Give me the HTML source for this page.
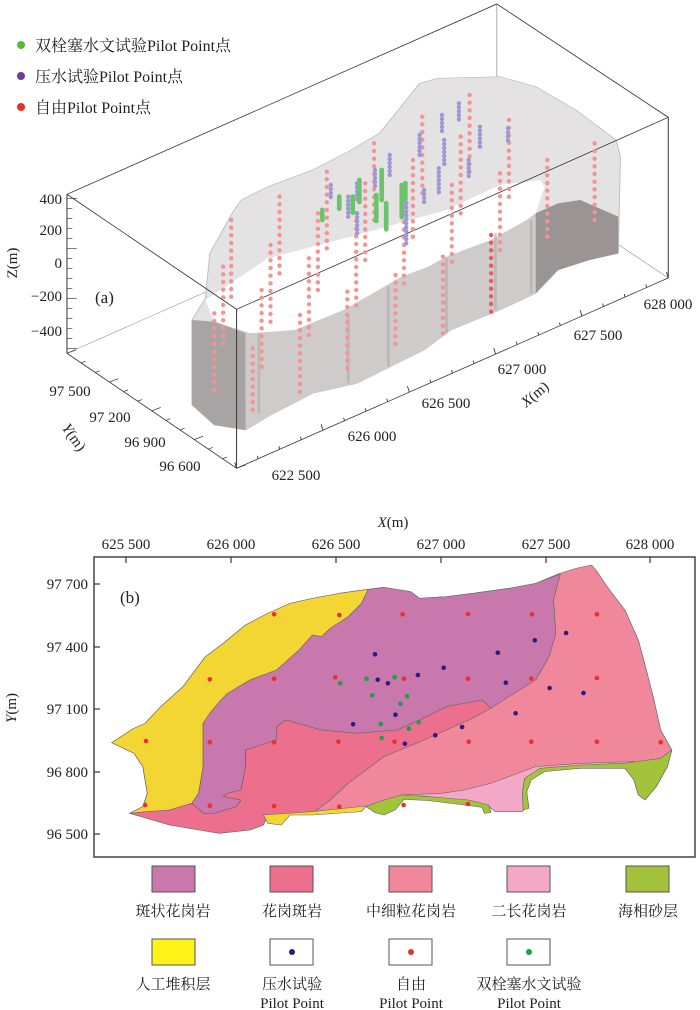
<!DOCTYPE html>
<html><head><meta charset="utf-8"><style>
html,body{margin:0;padding:0;background:#fff}
svg{display:block}
text{font-family:"Liberation Serif","Noto Serif CJK SC","Noto Sans CJK SC",serif;fill:#222}
</style></head><body>
<svg id="s" width="700" height="1010" viewBox="0 0 700 1010" xmlns="http://www.w3.org/2000/svg">
<!-- ===== Panel (a) ===== -->
<g transform="scale(0.4464,0.3333)" stroke-linejoin="round">
  <g stroke="#888" stroke-width="1.5" fill="none">
    <line x1="150" y1="1060" x2="1113" y2="490"/>
    <line x1="1113" y1="490" x2="1497" y2="834"/>
    <line x1="1113" y1="12" x2="1113" y2="490"/>
  </g>
  <polygon fill="#e4e2e2" stroke="#bbb" stroke-width="2" points="430,1215 430,960 460,895 470,760 520,640 540,600 600,560 700,510 780,455 850,400 940,250 980,235 1120,230 1200,260 1290,330 1380,420 1390,470 1385,760 1320,780 1250,810 1200,880 1120,930 1010,990 950,1050 800,1150 700,1180 600,1250 550,1290 480,1275"/>
  <polygon fill="#ffffff" points="460,900 600,775 800,705 1000,630 1120,555 1210,540 1220,560 1200,640 1180,660 1100,720 1000,770 960,800 900,830 770,930 660,990 560,1000 480,965"/>
  <polygon fill="#cfcbcb" points="430,960 480,965 560,1000 660,990 770,930 900,830 960,800 1000,770 1100,720 1180,660 1200,640 1200,880 1120,930 1010,990 950,1050 800,1150 700,1180 600,1250 550,1290 480,1275 430,1215"/>
  <polygon fill="#a9a4a4" points="430,960 480,965 550,1000 550,1290 480,1275 430,1215"/>
  <polygon fill="#9a9494" points="1200,640 1250,610 1300,600 1385,650 1385,760 1320,780 1250,810 1200,880"/>
  <g stroke="#b0aaaa" stroke-width="6" opacity="0.6">
    <line x1="580" y1="1000" x2="580" y2="1240"/><line x1="780" y1="950" x2="780" y2="1150"/>
    <line x1="870" y1="860" x2="870" y2="1100"/><line x1="1000" y1="775" x2="1000" y2="1000"/>
    <line x1="1110" y1="700" x2="1110" y2="930"/><line x1="1190" y1="660" x2="1190" y2="880"/>
  </g>
  <g stroke="#333" stroke-width="2.2" fill="none">
    <polyline points="150,583 1113,12 1497,352 530,928 150,583"/>
    <line x1="150" y1="583" x2="150" y2="1060"/>
    <line x1="530" y1="928" x2="530" y2="1405"/>
    <line x1="1497" y1="352" x2="1497" y2="834"/>
    <line x1="150" y1="1060" x2="530" y2="1405"/>
    <line x1="530" y1="1405" x2="1497" y2="834"/>
  </g>
  <g id="ticksA" stroke="#333" stroke-width="2"></g>
</g>
<g id="dotsA"></g>
<circle cx="21" cy="45" r="4" fill="#5cb83a"/>
<text x="35" y="51" font-size="16">双栓塞水文试验Pilot Point点</text>
<circle cx="21" cy="76" r="4" fill="#6a3d9a"/>
<text x="35" y="82" font-size="16">压水试验Pilot Point点</text>
<circle cx="21" cy="107" r="4" fill="#e8302c"/>
<text x="35" y="113" font-size="16">自由Pilot Point点</text>
<text x="95" y="303" font-size="17">(a)</text>
<g font-size="15" text-anchor="end">
  <text x="62" y="204">400</text><text x="62" y="235">200</text><text x="62" y="268">0</text>
  <text x="62" y="301">−200</text><text x="62" y="336">−400</text>
</g>
<text transform="translate(17,263) rotate(-90)" font-size="15" text-anchor="middle">Z(m)</text>
<g font-size="15" text-anchor="middle">
  <text x="70" y="396">97 500</text><text x="110" y="422">97 200</text>
  <text x="145" y="447">96 900</text><text x="180" y="471">96 600</text>
  <text x="296" y="480">622 500</text><text x="372" y="441">626 000</text>
  <text x="446" y="408">626 500</text><text x="522" y="374">627 000</text>
  <text x="598" y="340">627 500</text><text x="668" y="309">628 000</text>
</g>
<text transform="translate(70,440) rotate(55)" font-size="15" text-anchor="middle"><tspan font-style="italic">Y</tspan>(m)</text>
<text transform="translate(538,398) rotate(-40)" font-size="15" text-anchor="middle"><tspan font-style="italic">X</tspan>(m)</text>

<!-- ===== Panel (b) ===== -->
<g transform="translate(0,500) scale(0.4464,0.3333)" stroke="#666" stroke-width="1.6" stroke-linejoin="round">
  <polygon fill="#f0879b" points="250,728 300,685 325,670 360,620 410,560 460,470 500,430 550,375 600,340 650,310 700,295 760,280 825,268 860,262 920,275 940,295 1000,290 1060,280 1140,265 1200,250 1250,222 1290,205 1325,195 1335,210 1360,260 1400,330 1430,420 1450,520 1465,600 1480,690 1505,750 1495,800 1470,860 1445,900 1430,885 1420,840 1400,800 1300,800 1220,810 1185,835 1175,870 1180,920 1170,935 1110,935 1090,915 1050,905 990,895 950,888 900,888 860,912 840,935 820,920 700,935 600,945 590,975 560,990 490,1000 380,975 290,940 320,920 330,880 320,800 300,760"/>
  <polygon fill="#f3d634" points="250,728 300,685 325,670 360,620 410,560 460,470 500,430 550,375 600,340 650,310 700,295 760,280 825,268 810,310 780,350 740,385 720,410 700,405 670,450 620,510 560,540 510,580 495,600 470,640 455,670 455,800 445,880 430,910 380,930 330,935 290,940 320,920 330,880 320,800 300,760"/>
  <polygon fill="#c878ac" points="825,268 860,262 920,275 940,295 1000,290 1060,280 1140,265 1200,250 1255,222 1240,300 1245,400 1230,470 1200,540 1140,590 1100,625 1080,600 1000,620 940,660 890,690 800,700 720,690 640,660 620,680 620,720 550,750 550,800 540,870 510,880 500,890 540,900 530,920 480,940 455,940 430,910 445,880 455,800 455,670 470,640 495,600 510,580 560,540 620,510 670,450 700,405 720,410 740,385 780,350 810,310"/>
  <polygon fill="#ec6f8d" points="640,660 720,690 800,700 890,690 940,660 1000,620 1080,600 1100,625 1050,660 950,720 860,770 830,800 780,850 740,900 705,935 600,945 590,975 560,990 490,1000 380,975 290,940 330,935 380,930 430,910 455,940 480,940 530,920 540,900 500,890 510,880 540,870 550,800 550,750 620,720 620,680"/>
  <polygon fill="#f3d634" points="590,945 700,935 820,918 810,935 700,945 650,945 630,975 600,970"/>
  <polygon fill="#f4a8c8" points="840,915 900,885 990,880 1040,870 1100,850 1160,820 1200,800 1300,790 1420,785 1380,800 1220,810 1185,835 1175,870 1180,920 1170,935 1110,935 1090,915 1050,905 990,895 950,888 900,888 860,912 845,935"/>
  <polygon fill="#a3c43a" points="1400,790 1480,775 1505,750 1495,800 1470,860 1445,900 1430,885 1420,840 1400,805 1300,805 1220,815 1190,840 1180,875 1185,925 1172,930 1170,880 1175,835 1210,805 1300,795"/>
  <polygon fill="#a3c43a" points="820,920 860,900 900,885 960,890 1050,900 1095,915 1100,938 1085,940 1080,922 1040,915 960,902 905,898 885,930 860,945 840,938"/>
</g>
<g id="dotsB"></g>
<rect x="94" y="557" width="601" height="300" fill="none" stroke="#444" stroke-width="1.5"/>
<g stroke="#444" stroke-width="1.3">
  <line x1="126" y1="557" x2="126" y2="563"/><line x1="231" y1="557" x2="231" y2="563"/>
  <line x1="336" y1="557" x2="336" y2="563"/><line x1="441" y1="557" x2="441" y2="563"/>
  <line x1="546" y1="557" x2="546" y2="563"/><line x1="650" y1="557" x2="650" y2="563"/>
  <line x1="94" y1="584" x2="100" y2="584"/><line x1="94" y1="647" x2="100" y2="647"/>
  <line x1="94" y1="709" x2="100" y2="709"/><line x1="94" y1="772" x2="100" y2="772"/>
  <line x1="94" y1="834" x2="100" y2="834"/>
</g>
<g font-size="15" text-anchor="middle">
  <text x="126" y="549">625 500</text><text x="231" y="549">626 000</text>
  <text x="336" y="549">626 500</text><text x="441" y="549">627 000</text>
  <text x="546" y="549">627 500</text><text x="650" y="549">628 000</text>
  <text x="393" y="527"><tspan font-style="italic">X</tspan>(m)</text>
</g>
<g font-size="15" text-anchor="end">
  <text x="88" y="589">97 700</text><text x="88" y="652">97 400</text>
  <text x="88" y="714">97 100</text><text x="88" y="777">96 800</text>
  <text x="88" y="839">96 500</text>
</g>
<text transform="translate(16,708) rotate(-90)" font-size="15" text-anchor="middle"><tspan font-style="italic">Y</tspan>(m)</text>
<text x="120" y="603" font-size="17">(b)</text>

<g stroke="#555" stroke-width="1">
  <rect x="152" y="866" width="43" height="26" fill="#c878ac"/>
  <rect x="270" y="866" width="43" height="26" fill="#ec6f8d"/>
  <rect x="389" y="866" width="43" height="26" fill="#f0879b"/>
  <rect x="507" y="866" width="43" height="26" fill="#f4a8c8"/>
  <rect x="626" y="866" width="43" height="26" fill="#a3c43a"/>
  <rect x="152" y="939" width="43" height="26" fill="#fff31a"/>
  <rect x="270" y="939" width="43" height="26" fill="#fff"/>
  <rect x="389" y="939" width="43" height="26" fill="#fff"/>
  <rect x="507" y="939" width="43" height="26" fill="#fff"/>
</g>
<circle cx="292" cy="952" r="3" fill="#2d1d7a"/>
<circle cx="411" cy="952" r="3" fill="#e8302c"/>
<circle cx="529" cy="952" r="3" fill="#1aa04a"/>
<g font-size="15" text-anchor="middle">
  <text x="173" y="916">斑状花岗岩</text><text x="292" y="916">花岗斑岩</text>
  <text x="411" y="916">中细粒花岗岩</text><text x="529" y="916">二长花岗岩</text>
  <text x="648" y="916">海相砂层</text>
  <text x="173" y="989">人工堆积层</text>
  <text x="292" y="989">压水试验</text><text x="292" y="1008">Pilot Point</text>
  <text x="411" y="989">自由</text><text x="411" y="1008">Pilot Point</text>
  <text x="529" y="989">双栓塞水文试验</text><text x="529" y="1008">Pilot Point</text>
</g>
</svg>
<script>
(function(){
var NS="http://www.w3.org/2000/svg";
function c(g,x,y,r,f){var e=document.createElementNS(NS,"circle");e.setAttribute("cx",x);e.setAttribute("cy",y);e.setAttribute("r",r);e.setAttribute("fill",f);g.appendChild(e);}
var A=document.getElementById("dotsA");
var cols=[[480,940,1170],[500,800,1030],[518,660,890],[566,1045,1250],[586,870,1100],[606,735,965],[626,590,820],[672,945,1180],[692,775,1005],[712,640,870],[732,515,745],[778,875,1110],[798,640,920],[818,550,780],[838,430,660],[886,825,1050],[905,620,850],[925,480,710],[946,350,580],[992,770,1000],[1012,555,785],[1032,410,640],[1052,285,520],[1100,705,935],[1120,520,760],[1140,360,590],[1226,480,715],[1332,430,660]];
cols.forEach(function(k){for(var y=k[1];y<=k[2]+1;y+=23){c(A,(k[0]/2.24).toFixed(1),(y/3).toFixed(1),2.2,k[0]==1100?"#ec5a5a":"#f39494");}});
var pur=[[741,555,600],[780,590,650],[800,550,600],[800,640,710],[840,510,560],[855,560,600],[873,465,525],[910,610,740],[940,405,475],[950,570,615],[983,505,580],[990,345,400],[995,420,500],[1028,310,360],[1050,480,530],[1075,380,445],[1138,385,420]];
pur.forEach(function(k){for(var y=k[1];y<=k[2]+1;y+=12){c(A,(k[0]/2.24).toFixed(1),(y/3).toFixed(1),2.2,"#9c98d8");}});
var gr=[[722,630,660],[760,590,630],[790,590,640],[805,540,610],[843,585,665],[855,510,600],[865,610,690],[900,555,650],[908,550,600]];
gr.forEach(function(k){for(var y=k[1];y<=k[2]+1;y+=6){c(A,(k[0]/2.24).toFixed(1),(y/3).toFixed(1),2.4,"#6cc36c");}});
var T=document.getElementById("ticksA");
function l(x1,y1,x2,y2){var e=document.createElementNS(NS,"line");e.setAttribute("x1",x1);e.setAttribute("y1",y1);e.setAttribute("x2",x2);e.setAttribute("y2",y2);T.appendChild(e);}
for(var y=595;y<1060;y+=30){var major=((y-595)%150)<5;l(150,y,major?172:162,y);}
for(var i=0;i<=12;i++){var t=i/12;var x=150+380*t,y=1060+345*t;l(x,y,x+(i%3==0?20:10),y-(i%3==0?10:5));}
for(var i=0;i<=20;i++){var t=i/20;var x=530+967*t,y=1405-571*t;l(x,y,x-(i%4==0?4:2),y-(i%4==0?18:9));}
var B=document.getElementById("dotsB");
function P(x,y){return [(x/2.24).toFixed(1),(500+y/3).toFixed(1)];}
var red=[[614,343],[760,345],[902,343],[1048,342],[1192,343],[1337,343],[470,538],[614,536],[751,532],[905,536],[1048,536],[1190,536],[1337,534],[327,723],[470,727],[614,727],[758,725],[884,725],[1050,725],[1190,725],[1337,725],[1480,727],[325,915],[470,917],[614,918],[760,920],[904,915],[1048,912]];
var pb=[[840,463],[1198,421],[1268,399],[1115,458],[994,503],[936,525],[846,539],[869,550],[1133,548],[1231,564],[1307,579],[886,644],[1155,640],[791,673],[1035,681],[975,706],[907,731]];
var gb=[[762,550],[821,536],[884,532],[834,586],[912,589],[897,611],[853,672],[938,667],[916,686],[855,714]];
red.forEach(function(p){var q=P(p[0],p[1]);c(B,q[0],q[1],2.3,"#e8302c");});
pb.forEach(function(p){var q=P(p[0],p[1]);c(B,q[0],q[1],2.3,"#2d1d7a");});
gb.forEach(function(p){var q=P(p[0],p[1]);c(B,q[0],q[1],2.3,"#1aa04a");});
})();
</script>
</body></html>
